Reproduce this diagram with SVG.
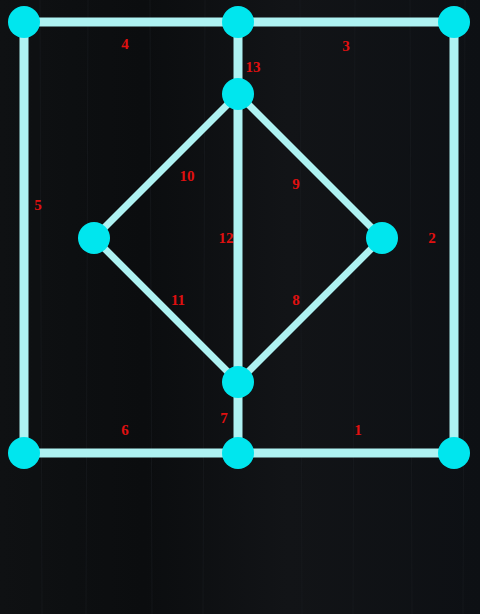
<svg xmlns="http://www.w3.org/2000/svg" width="480" height="614" viewBox="0 0 480 614">
<defs>
<linearGradient id="bg" x1="0" y1="0" x2="1" y2="0">
<stop offset="0" stop-color="#0f1113"/>
<stop offset="0.3" stop-color="#0b0d0f"/>
<stop offset="0.6" stop-color="#121417"/>
<stop offset="1" stop-color="#0d1014"/>
</linearGradient>
<style>
.edge{stroke:#aef2f2;stroke-width:9;fill:none;stroke-linecap:butt}
.diag{stroke-width:7}
.node{fill:#00e6ee}
.lbl{fill:#e01010;font-family:"Liberation Serif",serif;font-size:15px;font-weight:bold;text-anchor:middle}
.grain{stroke:#1a1d21;stroke-width:1;opacity:0.6}
</style>
</defs>
<rect width="480" height="614" fill="url(#bg)"/>
<g id="texture">
<line class="grain" x1="40" y1="0" x2="42" y2="614"/>
<line class="grain" x1="88" y1="0" x2="86" y2="614"/>
<line class="grain" x1="150" y1="0" x2="152" y2="614"/>
<line class="grain" x1="205" y1="0" x2="203" y2="614"/>
<line class="grain" x1="300" y1="0" x2="302" y2="614"/>
<line class="grain" x1="355" y1="0" x2="353" y2="614"/>
<line class="grain" x1="410" y1="0" x2="412" y2="614"/>
<line class="grain" x1="465" y1="0" x2="463" y2="614"/>
</g>
<g id="connectors">
<line class="edge" x1="24" y1="22" x2="454" y2="22"/>
<line class="edge" x1="24" y1="453" x2="454" y2="453"/>
<line class="edge" x1="24" y1="22" x2="24" y2="453"/>
<line class="edge" x1="454" y1="22" x2="454" y2="453"/>
<line class="edge" x1="238" y1="22" x2="238" y2="453"/>
<line class="edge diag" x1="238" y1="94" x2="94" y2="238"/>
<line class="edge diag" x1="238" y1="94" x2="382" y2="238"/>
<line class="edge diag" x1="94" y1="238" x2="238" y2="382"/>
<line class="edge diag" x1="382" y1="238" x2="238" y2="382"/>
</g>
<g id="n1"><circle class="node" cx="24" cy="22" r="16"/></g>
<g id="n2"><circle class="node" cx="238" cy="22" r="16"/></g>
<g id="n3"><circle class="node" cx="454" cy="22" r="16"/></g>
<g id="n4"><circle class="node" cx="238" cy="94" r="16"/></g>
<g id="n5"><circle class="node" cx="94" cy="238" r="16"/></g>
<g id="n6"><circle class="node" cx="382" cy="238" r="16"/></g>
<g id="n7"><circle class="node" cx="238" cy="382" r="16"/></g>
<g id="n8"><circle class="node" cx="24" cy="453" r="16"/></g>
<g id="n9"><circle class="node" cx="238" cy="453" r="16"/></g>
<g id="n10"><circle class="node" cx="454" cy="453" r="16"/></g>
<g id="labels">
<text class="lbl" x="125" y="49">4</text>
<text class="lbl" x="346" y="51">3</text>
<text class="lbl" x="253" y="72">13</text>
<text class="lbl" x="187" y="181">10</text>
<text class="lbl" x="296" y="189">9</text>
<text class="lbl" x="38" y="210">5</text>
<text class="lbl" x="226" y="243">12</text>
<text class="lbl" x="432" y="243">2</text>
<text class="lbl" x="178" y="305">11</text>
<text class="lbl" x="296" y="305">8</text>
<text class="lbl" x="125" y="435">6</text>
<text class="lbl" x="224" y="423">7</text>
<text class="lbl" x="358" y="435">1</text>
</g>
</svg>
